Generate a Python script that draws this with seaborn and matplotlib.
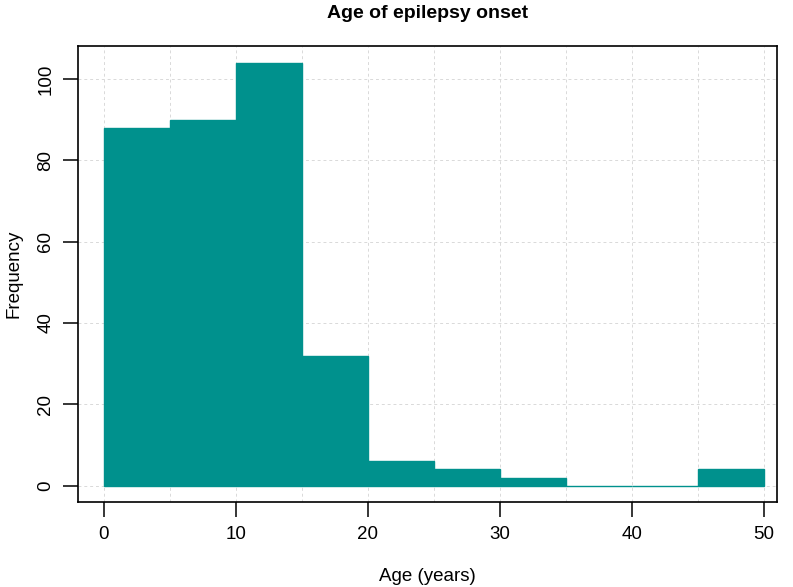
import matplotlib
matplotlib.use("Agg")
import matplotlib.pyplot as plt
import seaborn as sns
import numpy as np

bin_edges = [0, 5, 10, 15, 20, 25, 30, 35, 40, 45, 50]
counts = [88, 90, 104, 32, 6, 4, 2, 0, 0, 4]
x_ticks = [0, 10, 20, 30, 40, 50]
y_ticks = [0, 20, 40, 60, 80, 100]

sns.set_style("white")
plt.rcParams['font.family'] = ['Liberation Sans', 'DejaVu Sans']
plt.rcParams['text.color'] = 'black'
plt.rcParams['axes.labelcolor'] = 'black'
plt.rcParams['xtick.color'] = 'black'
plt.rcParams['ytick.color'] = 'black'

fig = plt.figure(figsize=(7.93, 5.87), dpi=100)
ax = fig.add_axes([78/793, 1-502/587, (777-78)/793, (502-46)/587])

centers = [(bin_edges[i] + bin_edges[i+1]) / 2 for i in range(len(counts))]
sns.histplot(x=centers, weights=counts, bins=bin_edges, color="#00918D",
             alpha=1, edgecolor="#00918D", linewidth=1, ax=ax, zorder=2)

ax.set_xlim(-1.95, 51.0)
ax.set_ylim(-4.0, 108.1)
ax.set_xticks(x_ticks)
ax.set_yticks(y_ticks)
ax.set_xticks(np.arange(0, 51, 5), minor=True)
ax.grid(True, which="both", axis="x", color="#d9d9d9", linestyle=(0, (3, 3)), linewidth=0.7, zorder=0)
ax.grid(True, which="major", axis="y", color="#d9d9d9", linestyle=(0, (3, 3)), linewidth=0.7, zorder=0)
ax.set_axisbelow(True)
ax.tick_params(axis="x", which="minor", length=0)
ax.tick_params(axis="both", which="major", direction="out", length=11, width=1.1,
               color="black", labelcolor="black", labelsize=13.5, pad=6, bottom=True, left=True)
for lab in ax.get_yticklabels():
    lab.set_rotation(90)
    lab.set_va("center")
for s in ax.spines.values():
    s.set_visible(True)
    s.set_color("black")
    s.set_linewidth(1.2)

ax.set_xlabel("Age (years)", fontsize=13.5, labelpad=18, color="black")
ax.set_ylabel("Frequency", fontsize=13.5, labelpad=11, color="black")
fig.text((78+777)/2/793, 1-13/587, "Age of epilepsy onset", ha="center", va="center",
         fontsize=14, fontweight="bold", color="black")

fig.savefig("out.png", dpi=100)
